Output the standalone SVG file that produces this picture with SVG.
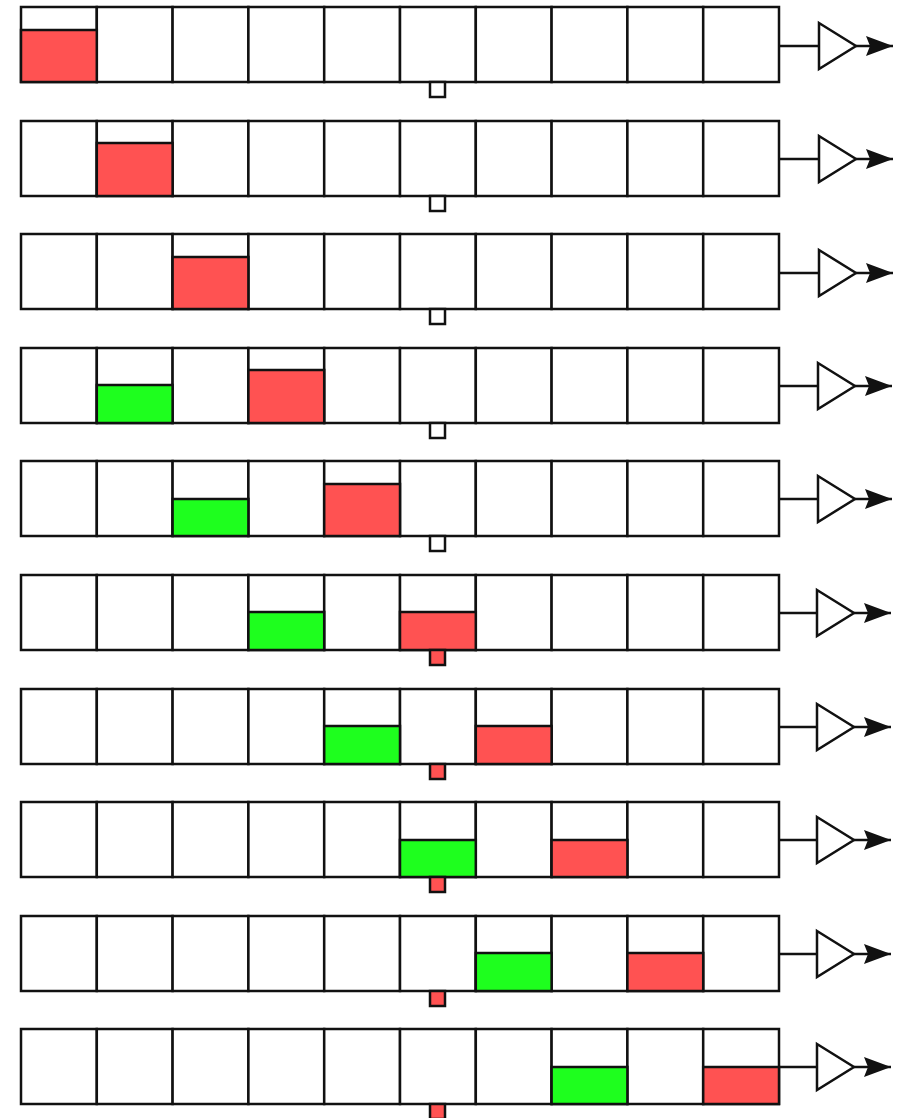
<svg xmlns="http://www.w3.org/2000/svg" width="900" height="1118" viewBox="0 0 900 1118">
<style>
.cell{fill:#fff;stroke:#111;stroke-width:2.5}
.red{fill:#ff5252;stroke:#111;stroke-width:2.5}
.grn{fill:#1eff1e;stroke:#111;stroke-width:2.5}
.sq{fill:#fff;stroke:#111;stroke-width:2.5}
.sqr{fill:#ff5252;stroke:#111;stroke-width:2.5}
.buf{fill:#fff;stroke:#111;stroke-width:2.5}
.wire{stroke:#111;stroke-width:2.5;fill:none}
</style>
<defs>
<g id="cells">
<rect class="cell" x="21" y="0" width="75.8" height="75"/>
<rect class="cell" x="96.8" y="0" width="75.8" height="75"/>
<rect class="cell" x="172.6" y="0" width="75.8" height="75"/>
<rect class="cell" x="248.4" y="0" width="75.8" height="75"/>
<rect class="cell" x="324.2" y="0" width="75.8" height="75"/>
<rect class="cell" x="400" y="0" width="75.8" height="75"/>
<rect class="cell" x="475.8" y="0" width="75.8" height="75"/>
<rect class="cell" x="551.6" y="0" width="75.8" height="75"/>
<rect class="cell" x="627.4" y="0" width="75.8" height="75"/>
<rect class="cell" x="703.2" y="0" width="75.8" height="75"/>
</g>
<polygon id="tri" class="buf" points="0,-23 37,0 0,23"/>
<marker id="ah" markerWidth="30" markerHeight="22" refX="27" refY="11" orient="auto" markerUnits="userSpaceOnUse">
<path d="M0,1 L27,11 L0,21 L4,11 Z" fill="#111"/>
</marker>
</defs>

<g id="connectors">
<path class="wire" d="M779,46 H819"/><path class="wire" d="M856,46 H893" marker-end="url(#ah)"/>
<path class="wire" d="M779,159 H819"/><path class="wire" d="M856,159 H893" marker-end="url(#ah)"/>
<path class="wire" d="M779,273 H819"/><path class="wire" d="M856,273 H893" marker-end="url(#ah)"/>
<path class="wire" d="M779,386 H818"/><path class="wire" d="M855,386 H892" marker-end="url(#ah)"/>
<path class="wire" d="M779,499 H818"/><path class="wire" d="M855,499 H892" marker-end="url(#ah)"/>
<path class="wire" d="M779,613 H817"/><path class="wire" d="M854,613 H891" marker-end="url(#ah)"/>
<path class="wire" d="M779,727 H817"/><path class="wire" d="M854,727 H891" marker-end="url(#ah)"/>
<path class="wire" d="M779,840 H817"/><path class="wire" d="M854,840 H891" marker-end="url(#ah)"/>
<path class="wire" d="M779,954 H817"/><path class="wire" d="M854,954 H891" marker-end="url(#ah)"/>
<path class="wire" d="M779,1067 H817"/><path class="wire" d="M854,1067 H891" marker-end="url(#ah)"/>
</g>

<g id="row1" transform="translate(0,7)">
<use href="#cells"/>
<rect class="red" x="21" y="23" width="75.8" height="52"/>
<rect class="sq" x="430" y="75" width="15" height="15"/>
<use href="#tri" x="819" y="39"/>
</g>
<g id="row2" transform="translate(0,121)">
<use href="#cells"/>
<rect class="red" x="96.8" y="22" width="75.8" height="53"/>
<rect class="sq" x="430" y="75" width="15" height="15"/>
<use href="#tri" x="819" y="38"/>
</g>
<g id="row3" transform="translate(0,234)">
<use href="#cells"/>
<rect class="red" x="172.6" y="23" width="75.8" height="52"/>
<rect class="sq" x="430" y="75" width="15" height="15"/>
<use href="#tri" x="819" y="39"/>
</g>
<g id="row4" transform="translate(0,348)">
<use href="#cells"/>
<rect class="grn" x="96.8" y="37" width="75.8" height="38"/>
<rect class="red" x="248.4" y="22" width="75.8" height="53"/>
<rect class="sq" x="430" y="75" width="15" height="15"/>
<use href="#tri" x="818" y="38"/>
</g>
<g id="row5" transform="translate(0,461)">
<use href="#cells"/>
<rect class="grn" x="172.6" y="38" width="75.8" height="37"/>
<rect class="red" x="324.2" y="23" width="75.8" height="52"/>
<rect class="sq" x="430" y="75" width="15" height="15"/>
<use href="#tri" x="818" y="38"/>
</g>
<g id="row6" transform="translate(0,575)">
<use href="#cells"/>
<rect class="grn" x="248.4" y="37" width="75.8" height="38"/>
<rect class="red" x="400" y="37" width="75.8" height="38"/>
<rect class="sqr" x="430" y="75" width="15" height="15"/>
<use href="#tri" x="817" y="38"/>
</g>
<g id="row7" transform="translate(0,689)">
<use href="#cells"/>
<rect class="grn" x="324.2" y="37" width="75.8" height="38"/>
<rect class="red" x="475.8" y="37" width="75.8" height="38"/>
<rect class="sqr" x="430" y="75" width="15" height="15"/>
<use href="#tri" x="817" y="38"/>
</g>
<g id="row8" transform="translate(0,802)">
<use href="#cells"/>
<rect class="grn" x="400" y="38" width="75.8" height="37"/>
<rect class="red" x="551.6" y="38" width="75.8" height="37"/>
<rect class="sqr" x="430" y="75" width="15" height="15"/>
<use href="#tri" x="817" y="38"/>
</g>
<g id="row9" transform="translate(0,916)">
<use href="#cells"/>
<rect class="grn" x="475.8" y="37" width="75.8" height="38"/>
<rect class="red" x="627.4" y="37" width="75.8" height="38"/>
<rect class="sqr" x="430" y="75" width="15" height="15"/>
<use href="#tri" x="817" y="38"/>
</g>
<g id="row10" transform="translate(0,1029)">
<use href="#cells"/>
<rect class="grn" x="551.6" y="38" width="75.8" height="37"/>
<rect class="red" x="703.2" y="38" width="75.8" height="37"/>
<rect class="sqr" x="430" y="75" width="15" height="15"/>
<use href="#tri" x="817" y="38"/>
</g>
</svg>
